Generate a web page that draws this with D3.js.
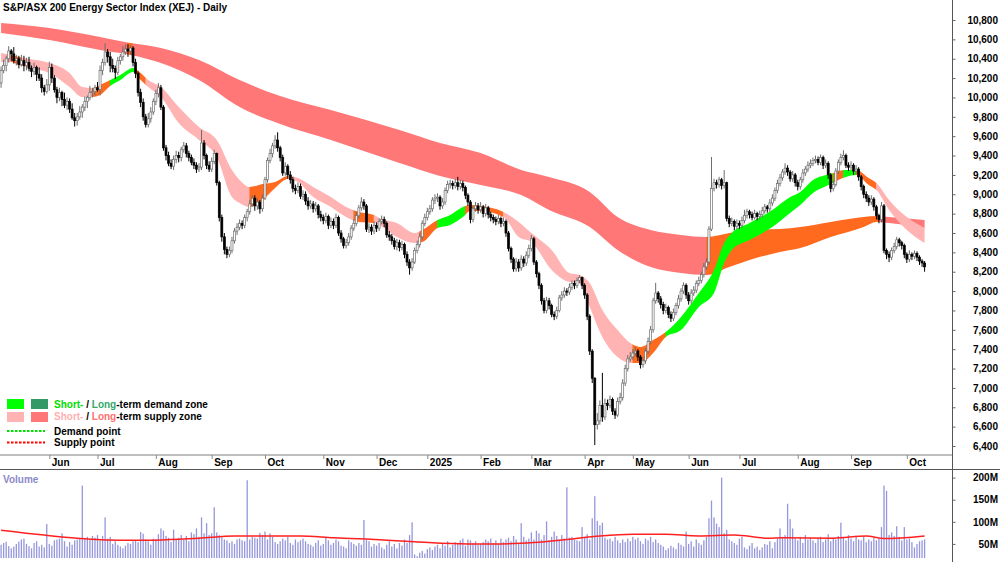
<!DOCTYPE html>
<html lang="en">
<head>
    <meta charset="UTF-8">
    <title>XEJ Daily</title>
    <script src="https://d3js.org/d3.v7.min.js"></script>
    <style>
        body { margin: 0; background: #fff; }
        svg text {
            font-family: "Liberation Sans", Arial, sans-serif;
            font-weight: bold;
            font-size: 10px;
        }
    </style>
</head>
<body>
<script>
    // daily bars, May 2024 -> Oct 2025 (index = trading day)
    const opens = [10150,10280,10330,10400,10480,10450,10380,10400,10340,10380,
        10330,10360,10300,10270,10310,10240,10200,10100,10060,10130,
        10310,10200,10080,10000,10050,9980,9920,9960,9880,9790,
        9760,9800,9850,9900,9960,10000,10050,10060,10100,10080,
        10280,10360,10470,10420,10330,10300,10260,10380,10420,10470,
        10500,10480,10510,10360,10250,10050,9950,9800,9720,9780,
        9850,9960,10040,10100,9900,9480,9400,9320,9290,9360,
        9400,9380,9460,9500,9420,9380,9330,9300,9260,9280,
        9530,9400,9300,9260,9340,9420,9120,8760,8560,8430,
        8380,8420,8520,8620,8660,8700,8680,8760,8820,8900,
        8960,8880,8920,8850,8960,9150,9350,9420,9500,9560,
        9480,9380,9220,9290,9200,9150,9060,9040,9080,8980,
        9000,8930,8880,8900,8850,8880,8790,8760,8730,8770,
        8680,8720,8680,8760,8600,8540,8470,8500,8560,8650,
        8700,8780,8860,8920,8880,8640,8660,8620,8680,8650,
        8720,8740,8700,8580,8560,8520,8460,8500,8450,8480,
        8380,8300,8240,8300,8420,8480,8560,8700,8760,8820,
        8850,8940,8960,8970,8880,8920,9040,9100,9110,9090,
        9120,9080,9110,9070,8990,8920,8740,8850,8880,8840,
        8870,8800,8860,8790,8760,8740,8720,8750,8700,8720,
        8600,8440,8330,8230,8300,8240,8330,8290,8370,8440,
        8540,8300,8180,8060,7900,7800,7900,7850,7760,7740,
        7800,7930,7960,8000,7990,8040,8080,8060,8110,8140,
        8060,7960,7740,7380,7100,6620,6660,6820,6700,6840,
        6820,6880,6760,6720,6860,6900,7050,7200,7300,7320,
        7360,7380,7320,7240,7280,7380,7480,7600,7900,7980,
        7920,7860,7800,7830,7760,7720,7780,7850,7920,8000,
        8060,7960,7900,7980,8010,8080,8110,8170,8250,8300,
        8640,9060,9120,9100,9150,9090,9120,8750,8700,8720,
        8670,8700,8680,8730,8780,8820,8790,8760,8800,8770,
        8790,8830,8870,8850,8910,8960,9040,9110,9170,9230,
        9270,9230,9160,9200,9120,9080,9150,9220,9260,9300,
        9320,9350,9360,9330,9380,9300,9320,9200,9060,9100,
        9240,9330,9380,9400,9300,9280,9300,9240,9260,9180,
        9080,9000,8960,8920,8950,8870,8780,8740,8880,8420,
        8380,8350,8420,8460,8530,8500,8470,8380,8330,8380,
        8360,8390,8350,8310,8290];

    const highs = [10320,10390,10430,10530,10500,10520,10440,10430,10440,10430,
        10410,10420,10330,10360,10330,10310,10240,10130,10190,10370,
        10350,10230,10110,10100,10070,10050,10000,9990,9940,9840,
        9840,9910,9930,10010,10020,10120,10100,10130,10160,10330,
        10400,10560,10500,10470,10400,10330,10420,10450,10530,10550,
        10550,10540,10530,10400,10270,10090,9990,9830,9840,9900,
        9990,10080,10150,10130,9920,9510,9440,9360,9400,9450,
        9440,9490,9540,9530,9450,9410,9370,9330,9320,9665,
        9560,9420,9340,9380,9460,9430,9140,8790,8600,8460,
        8460,8560,8650,8700,8740,8730,8790,8850,8940,8990,
        8990,8960,8940,9000,9180,9380,9470,9530,9610,9640,
        9500,9410,9330,9310,9240,9180,9100,9120,9110,9040,
        9030,8970,8940,8930,8920,8900,8830,8790,8810,8790,
        8760,8750,8800,8780,8630,8560,8540,8600,8680,8740,
        8820,8890,8970,8950,8900,8700,8690,8720,8710,8750,
        8780,8770,8720,8620,8590,8550,8540,8530,8520,8500,
        8410,8330,8340,8450,8520,8600,8730,8800,8860,8890,
        8970,9000,9010,8990,8960,9070,9140,9150,9140,9160,
        9180,9150,9140,9090,9010,8940,8880,8920,8910,8920,
        8890,8900,8880,8820,8790,8770,8790,8770,8760,8740,
        8620,8460,8350,8340,8330,8370,8360,8410,8480,8580,
        8560,8320,8200,8080,7930,7940,7930,7870,7790,7840,
        7960,8000,8040,8030,8080,8110,8110,8140,8165,8150,
        8080,7980,7760,7400,7110,6740,6870,7155,6890,6880,
        6920,6900,6790,6900,6950,7090,7240,7340,7370,7400,
        7420,7400,7340,7320,7410,7520,7640,7930,8085,8000,
        7950,7890,7870,7850,7790,7820,7880,7960,8030,8090,
        8080,7990,8020,8050,8110,8150,8200,8290,8340,8670,
        9385,9160,9150,9180,9170,9250,9130,8780,8760,8740,
        8740,8730,8770,8840,8850,8840,8820,8840,8820,8830,
        8870,8900,8890,8950,9000,9070,9150,9210,9260,9320,
        9300,9250,9240,9220,9150,9180,9260,9290,9340,9360,
        9380,9400,9390,9410,9400,9360,9340,9220,9140,9270,
        9360,9420,9455,9420,9330,9340,9320,9300,9280,9200,
        9100,9030,8990,8990,8970,8890,8800,8920,8900,8440,
        8410,8450,8500,8560,8550,8520,8490,8400,8420,8400,
        8420,8410,8370,8330,8310];

    const lows = [10100,10250,10270,10360,10380,10350,10330,10300,10320,10270,
        10280,10270,10210,10230,10170,10170,10050,10020,10040,10070,
        10150,10050,9940,9960,9910,9890,9870,9840,9770,9700,
        9710,9770,9790,9860,9890,9970,10000,10020,10060,10020,
        10230,10330,10360,10260,10260,10190,10230,10340,10380,10440,
        10420,10440,10320,10200,10010,9900,9760,9690,9690,9740,
        9820,9920,10000,9870,9450,9350,9290,9260,9250,9320,
        9330,9340,9430,9380,9340,9300,9260,9220,9230,9250,
        9360,9260,9230,9230,9310,9090,8720,8510,8380,8340,
        8350,8390,8490,8580,8630,8640,8650,8720,8790,8870,
        8830,8840,8800,8820,8940,9120,9320,9380,9470,9440,
        9340,9190,9190,9160,9110,9020,9000,9010,8950,8940,
        8890,8840,8850,8810,8820,8750,8720,8690,8700,8640,
        8650,8640,8650,8570,8500,8440,8440,8470,8530,8620,
        8670,8750,8830,8840,8610,8600,8580,8590,8610,8620,
        8690,8660,8550,8520,8480,8430,8420,8410,8420,8340,
        8260,8170,8210,8280,8390,8450,8530,8670,8730,8790,
        8820,8900,8920,8840,8850,8890,9010,9060,9050,9060,
        9040,9050,9030,8950,8880,8700,8710,8820,8800,8810,
        8760,8770,8750,8720,8700,8680,8690,8660,8670,8560,
        8410,8290,8200,8200,8200,8210,8250,8260,8340,8410,
        8270,8140,8020,7860,7770,7770,7810,7730,7700,7710,
        7780,7900,7930,7950,7960,8010,8020,8030,8080,8020,
        7920,7700,7340,7050,6410,6570,6620,6650,6670,6770,
        6790,6720,6680,6700,6830,6870,7020,7170,7270,7290,
        7330,7280,7200,7210,7250,7350,7450,7570,7870,7880,
        7820,7760,7770,7720,7680,7690,7750,7820,7890,7970,
        7920,7860,7870,7950,7980,8050,8080,8140,8220,8270,
        8620,9030,9060,9070,9050,9060,8720,8660,8670,8630,
        8640,8640,8650,8700,8750,8750,8730,8740,8730,8740,
        8760,8800,8810,8820,8880,8930,9010,9080,9140,9200,
        9190,9130,9130,9080,9040,9050,9120,9190,9230,9270,
        9290,9320,9300,9300,9260,9270,9160,9020,9030,9080,
        9210,9300,9350,9270,9240,9250,9200,9210,9140,9040,
        8960,8920,8880,8890,8830,8740,8700,8710,8390,8330,
        8300,8320,8390,8430,8460,8430,8340,8290,8300,8320,
        8330,8310,8270,8250,8200];

    const closes = [10280,10330,10400,10480,10450,10380,10400,10340,10380,10330,
        10360,10300,10270,10310,10240,10200,10100,10060,10130,10310,
        10200,10080,10000,10050,9980,9920,9960,9880,9790,9760,
        9800,9850,9900,9960,10000,10050,10060,10100,10080,10280,
        10360,10470,10420,10330,10300,10260,10380,10420,10470,10500,
        10480,10510,10360,10250,10050,9950,9800,9720,9780,9850,
        9960,10040,10100,9900,9480,9400,9320,9290,9360,9400,
        9380,9460,9500,9420,9380,9330,9300,9260,9280,9530,
        9400,9300,9260,9340,9420,9120,8760,8560,8430,8380,
        8420,8520,8620,8660,8700,8680,8760,8820,8900,8960,
        8880,8920,8850,8960,9150,9350,9420,9500,9560,9480,
        9380,9220,9290,9200,9150,9060,9040,9080,8980,9000,
        8930,8880,8900,8850,8880,8790,8760,8730,8770,8680,
        8720,8680,8760,8600,8540,8470,8500,8560,8650,8700,
        8780,8860,8920,8880,8640,8660,8620,8680,8650,8720,
        8740,8700,8580,8560,8520,8460,8500,8450,8480,8380,
        8300,8240,8300,8420,8480,8560,8700,8760,8820,8850,
        8940,8960,8970,8880,8920,9040,9100,9110,9090,9120,
        9080,9110,9070,8990,8920,8740,8850,8880,8840,8870,
        8800,8860,8790,8760,8740,8720,8750,8700,8720,8600,
        8440,8330,8230,8300,8240,8330,8290,8370,8440,8540,
        8300,8180,8060,7900,7800,7900,7850,7760,7740,7800,
        7930,7960,8000,7990,8040,8080,8060,8110,8140,8060,
        7960,7740,7380,7100,6620,6660,6820,6700,6840,6820,
        6880,6760,6720,6860,6900,7050,7200,7300,7320,7360,
        7380,7320,7240,7280,7380,7480,7600,7900,7980,7920,
        7860,7800,7830,7760,7720,7780,7850,7920,8000,8060,
        7960,7900,7980,8010,8080,8110,8170,8250,8300,8640,
        9060,9120,9100,9150,9090,9120,8750,8700,8720,8670,
        8700,8680,8730,8780,8820,8790,8760,8800,8770,8790,
        8830,8870,8850,8910,8960,9040,9110,9170,9230,9270,
        9230,9160,9200,9120,9080,9150,9220,9260,9300,9320,
        9350,9360,9330,9380,9300,9320,9200,9060,9100,9240,
        9330,9380,9400,9300,9280,9300,9240,9260,9180,9080,
        9000,8960,8920,8950,8870,8780,8740,8880,8420,8380,
        8350,8420,8460,8530,8500,8470,8380,8330,8380,8360,
        8390,8350,8310,8290,8250];

    // volume in millions
    const volumes = [48,52,55,45,40,44,50,55,60,62,
        50,45,40,52,56,44,48,42,95,50,
        46,58,60,62,74,56,44,54,48,58,
        60,62,182,62,66,60,68,64,70,58,
        68,110,62,66,50,56,48,44,40,46,
        52,50,56,58,54,77,73,60,56,48,
        62,60,72,85,80,68,64,54,82,60,
        64,70,60,68,56,76,72,85,66,110,
        74,97,70,74,133,76,70,65,60,58,
        52,56,50,60,62,58,56,194,60,66,
        64,62,75,70,78,60,74,66,54,50,
        56,62,58,66,52,48,60,54,58,62,
        56,50,48,44,52,58,46,50,64,58,
        48,52,60,56,46,44,40,58,54,50,
        46,52,48,104,60,56,44,50,46,52,
        42,38,48,56,44,50,40,52,46,60,
        52,70,99,26,22,30,34,28,38,42,
        36,44,48,40,50,46,56,42,48,54,
        50,58,62,46,60,58,52,56,48,50,
        54,60,56,62,52,58,50,62,54,60,
        64,56,68,60,52,97,66,58,62,76,
        60,80,74,60,70,101,58,66,78,68,
        60,70,62,178,64,66,60,58,56,88,
        66,72,60,108,158,102,92,98,64,60,
        62,56,66,58,52,60,54,62,56,66,
        60,64,56,50,62,58,66,54,60,52,
        48,44,36,40,46,42,38,52,48,44,
        78,50,56,44,60,52,48,58,66,108,
        148,110,96,88,200,74,82,60,56,52,
        48,62,66,42,38,46,52,40,44,36,
        42,50,48,56,40,54,62,85,66,70,
        141,106,85,62,58,66,52,70,60,64,
        58,52,62,66,54,60,72,56,64,60,
        68,98,66,58,70,62,56,66,60,58,
        66,54,60,56,64,58,62,88,182,170,
        70,76,68,90,66,58,88,60,62,54,
        42,50,56,58,60];

    // volume moving average, read at these bar indices
    const volMaIdx = [0,17,30,52,78,92,118,131,144,163,184,197,210,223,236,249,262,275,289,302,308,328,341,348,364];
    const volMa = [81,70,63,58,63,68,68,64,61,55,50,50,53,60,68,72,72,68,70,63,64,63,68,62,68];

    // short-term zone edges, read at these bar indices
    const shortIdx = [0,4,7,11,19,27,32,36,39,43,47,52,55,58,63,70,78,85,91,94,98,103,108,113,117,123,130,136,141,147,
        149,156,163,166,172,177,182,185,189,198,204,209,217,224,228,232,237,243,248,252,257,262,268,275,281,285,288,295,304,311,
        315,320,327,333,337,342,345,350,357,364];
    const shortHi = [10459,10439,10418,10397,10356,10253,10108,10098,10129,10180,10232,10304,10253,10180,10108,9901,9695,9561,9251,9148,
        9075,9106,9127,9189,9168,9075,8972,8869,8817,8786,8755,8703,8600,8631,8734,8786,8869,8889,8879,8817,
        8714,8600,8425,8187,8166,8084,7805,7598,7464,7423,7495,7578,7733,7980,8218,8497,8600,8703,8838,8972,
        9024,9148,9210,9251,9251,9168,9117,8941,8765,8652];
    const shortLo = [10366,10366,10335,10304,10253,10108,10005,10005,10025,10118,10180,10263,10180,10108,10005,9736,9561,9385,8972,8910,
        8869,8941,9065,9158,9127,8972,8869,8765,8714,8703,8683,8559,8497,8507,8652,8683,8765,8827,8827,8765,
        8559,8507,8218,8094,8084,7836,7526,7319,7257,7257,7361,7526,7598,7836,7980,8290,8425,8528,8662,8807,
        8889,9013,9106,9179,9199,9096,9044,8838,8631,8497];

    // long-term zone edges
    const longIdx = [0,19,39,51,63,78,94,110,130,157,173,189,205,216,232,243,256,268,278,287,295,307,315,327,340,345,350,364];
    const longHi = [10769,10717,10624,10562,10511,10387,10180,10015,9870,9664,9530,9426,9251,9178,9024,8765,8631,8580,8559,8600,8631,8641,8662,8714,8765,8776,8765,8734];
    const longLo = [10666,10593,10490,10439,10356,10180,9901,9726,9561,9323,9189,9096,8993,8838,8662,8425,8249,8187,8166,8249,8321,8404,8445,8559,8662,8714,8703,8652];

    // zone state between bar indices
    const shortZones = [[0,4,"supply"],[4,8,"neutral"],[8,36,"supply"],[36,43,"neutral"],[43,53,"demand"],[53,57,"neutral"],
        [57,98,"supply"],[98,113,"neutral"],[113,139,"supply"],[139,147,"neutral"],[147,165,"supply"],[165,172,"neutral"],
        [172,183,"demand"],[183,198,"neutral"],[198,249,"supply"],[249,262,"neutral"],[262,328,"demand"],[328,332,"neutral"],
        [332,337,"demand"],[337,345,"neutral"],[345,364,"supply"]];
    const longZones = [[0,50,"ltSupply"],[50,52,"neutral"],[52,278,"ltSupply"],[278,346,"neutral"],[346,364,"ltSupply"]];

    const monthLabels = ["Jun","Jul","Aug","Sep","Oct","Nov","Dec","2025","Feb","Mar","Apr","May","Jun","Jul","Aug","Sep","Oct"];
    const monthIdx = [19,38,61,83,104,127,148,168,189,209,230,249,271,291,314,335,357];

    const priceTicks = [10800,10600,10400,10200,10000,9800,9600,9400,9200,9000,8800,8600,8400,8200,8000,
        7800,7600,7400,7200,7000,6800,6600,6400];
    const volTicks = [200,150,100,50];

    let width = 1000;
    let height = 562;
    let axisX = 952;
    let priceBottom = 455;
    let volTop = 469;
    let volBottom = 558;

    let zoneColor = {
        supply: "#ffb3b3",
        demand: "#00ff00",
        neutral: "#ff6a1f",
        ltSupply: "#ff7777",
        ltDemand: "#339966"
    };

    let svg = d3.select("body").append("svg")
        .attr("width", width)
        .attr("height", height);

    svg.append("rect")
        .attr("width", width)
        .attr("height", height)
        .attr("fill", "#fff");

    let defs = svg.append("defs");

    let x = d3.scaleLinear().domain([0, closes.length - 1]).range([1.1, 924.6]);
    let y = d3.scaleLinear().domain([6400, 10800]).range([446, 20]);
    let yv = d3.scaleLinear().domain([0, 200]).range([566, 477.6]);

    defs.append("clipPath").attr("id", "priceClip")
        .append("rect").attr("x", 0).attr("y", 0).attr("width", axisX).attr("height", priceBottom);
    defs.append("clipPath").attr("id", "volClip")
        .append("rect").attr("x", 0).attr("y", volTop).attr("width", axisX).attr("height", volBottom - volTop);

    let panel = svg.append("g").attr("clip-path", "url(#priceClip)");

    // zone bands, one clipped copy per coloured stretch
    function drawBand(idx, hi, lo, zones, name) {
        let pts = idx.map((d, k) => ({i: d, hi: hi[k], lo: lo[k]}));
        let area = d3.area()
            .x(d => x(d.i))
            .y0(d => y(d.lo))
            .y1(d => y(d.hi))
            .curve(d3.curveMonotoneX);
        zones.forEach((z, k) => {
            let x0 = k === 0 ? 0 : x(z[0]) - 0.3;
            let x1 = k === zones.length - 1 ? axisX : x(z[1]) + 0.3;
            let id = name + k;
            defs.append("clipPath").attr("id", id)
                .append("rect").attr("x", x0).attr("y", 0).attr("width", x1 - x0).attr("height", priceBottom);
            panel.append("g").attr("clip-path", "url(#" + id + ")")
                .append("path")
                .datum(pts)
                .attr("d", area)
                .attr("fill", zoneColor[z[2]]);
        });
    }

    drawBand(longIdx, longHi, longLo, longZones, "lz");
    drawBand(shortIdx, shortHi, shortLo, shortZones, "sz");

    // candles: hollow grey when up, solid black when down
    let candles = panel.append("g");
    closes.forEach((c, i) => {
        let o = opens[i];
        let up = c >= o;
        let col = up ? "#6e6e6e" : "#000";
        candles.append("line")
            .attr("x1", x(i)).attr("x2", x(i))
            .attr("y1", y(highs[i])).attr("y2", y(lows[i]))
            .attr("stroke", col)
            .attr("stroke-width", 1);
        let top = y(Math.max(o, c));
        let h = Math.max(1, Math.abs(y(o) - y(c)));
        candles.append("rect")
            .attr("x", x(i) - 1)
            .attr("y", top)
            .attr("width", 2)
            .attr("height", h)
            .attr("fill", up ? "#fff" : "#000")
            .attr("stroke", col)
            .attr("stroke-width", 0.7);
    });

    // volume panel
    let vol = svg.append("g").attr("clip-path", "url(#volClip)");
    vol.selectAll("rect")
        .data(volumes)
        .join("rect")
        .attr("x", (d, i) => x(i) - 0.65)
        .attr("y", d => yv(d))
        .attr("width", 1.3)
        .attr("height", d => volBottom - yv(d))
        .attr("fill", "#9696dc");

    let maLine = d3.line()
        .x(d => x(d[0]))
        .y(d => yv(d[1]))
        .curve(d3.curveMonotoneX);
    vol.append("path")
        .datum(volMaIdx.map((d, k) => [d, volMa[k]]))
        .attr("d", maLine)
        .attr("fill", "none")
        .attr("stroke", "#ff2020")
        .attr("stroke-width", 1.5);

    svg.append("text")
        .attr("x", 3)
        .attr("y", 483)
        .attr("fill", "#8a8ac8")
        .text("Volume");

    // panel separators
    svg.append("line")
        .attr("x1", 0).attr("x2", axisX)
        .attr("y1", priceBottom).attr("y2", priceBottom)
        .attr("stroke", "#a8a8a8")
        .attr("stroke-width", 1.5);
    svg.append("line")
        .attr("x1", 0).attr("x2", width)
        .attr("y1", volTop + 0.5).attr("y2", volTop + 0.5)
        .attr("stroke", "#555");

    // month axis
    let xAxis = d3.axisBottom(x)
        .tickValues(monthIdx)
        .tickSize(4)
        .tickFormat(d => monthLabels[monthIdx.indexOf(d)]);
    svg.append("g")
        .attr("transform", "translate(0," + priceBottom + ")")
        .style("color", "#888")
        .call(xAxis)
        .call(g => g.select(".domain").remove())
        .call(g => g.selectAll("text")
            .attr("x", 2).attr("y", 11).attr("dy", null)
            .attr("text-anchor", "start")
            .attr("fill", "#000"));

    // right axes
    svg.append("line")
        .attr("x1", axisX + 0.5).attr("x2", axisX + 0.5)
        .attr("y1", 0).attr("y2", height)
        .attr("stroke", "#555");

    let yAxis = d3.axisRight(y)
        .tickValues(priceTicks)
        .tickSize(3)
        .tickFormat(d3.format(","));
    svg.append("g")
        .attr("transform", "translate(" + (axisX + 0.5) + ",0)")
        .style("color", "#666")
        .call(yAxis)
        .call(g => g.select(".domain").remove())
        .call(g => g.selectAll("text")
            .attr("x", 45.5).attr("text-anchor", "end")
            .attr("fill", "#000"));

    let vAxis = d3.axisRight(yv)
        .tickValues(volTicks)
        .tickSize(3)
        .tickFormat(d => d + "M");
    svg.append("g")
        .attr("transform", "translate(" + (axisX + 0.5) + ",0)")
        .style("color", "#666")
        .call(vAxis)
        .call(g => g.select(".domain").remove())
        .call(g => g.selectAll("text")
            .attr("x", 45.5).attr("text-anchor", "end")
            .attr("fill", "#000"));

    // title
    svg.append("text")
        .attr("x", 3)
        .attr("y", 11)
        .attr("fill", "#000")
        .text("S&P/ASX 200 Energy Sector Index (XEJ) - Daily");

    // legend
    let legend = svg.append("g");
    let swatches = [
        [7, 399, zoneColor.demand], [31, 399, zoneColor.ltDemand],
        [7, 412, zoneColor.supply], [31, 412, zoneColor.ltSupply]
    ];
    swatches.forEach(s => {
        legend.append("rect")
            .attr("x", s[0]).attr("y", s[1])
            .attr("width", 17).attr("height", 10)
            .attr("fill", s[2]);
    });

    let rows = [
        {y: 407.5, parts: [["Short-", "#00dd00"], [" / ", "#000"], ["Long", "#33a86a"], ["-term demand zone", "#000"]]},
        {y: 420, parts: [["Short-", "#ffb0b0"], [" / ", "#000"], ["Long", "#ff7070"], ["-term supply zone", "#000"]]},
        {y: 434.5, parts: [["Demand point", "#000"]]},
        {y: 446, parts: [["Supply point", "#000"]]}
    ];
    rows.forEach(r => {
        let t = legend.append("text").attr("x", 54).attr("y", r.y);
        r.parts.forEach(p => t.append("tspan").attr("fill", p[1]).text(p[0]));
    });

    legend.append("line")
        .attr("x1", 7).attr("x2", 45)
        .attr("y1", 431).attr("y2", 431)
        .attr("stroke", "#00e000")
        .attr("stroke-width", 2)
        .attr("stroke-dasharray", "2.5,1.5");
    legend.append("line")
        .attr("x1", 7).attr("x2", 45)
        .attr("y1", 442.5).attr("y2", 442.5)
        .attr("stroke", "#ff0000")
        .attr("stroke-width", 2)
        .attr("stroke-dasharray", "2.5,1.5");
</script>
</body>
</html>
